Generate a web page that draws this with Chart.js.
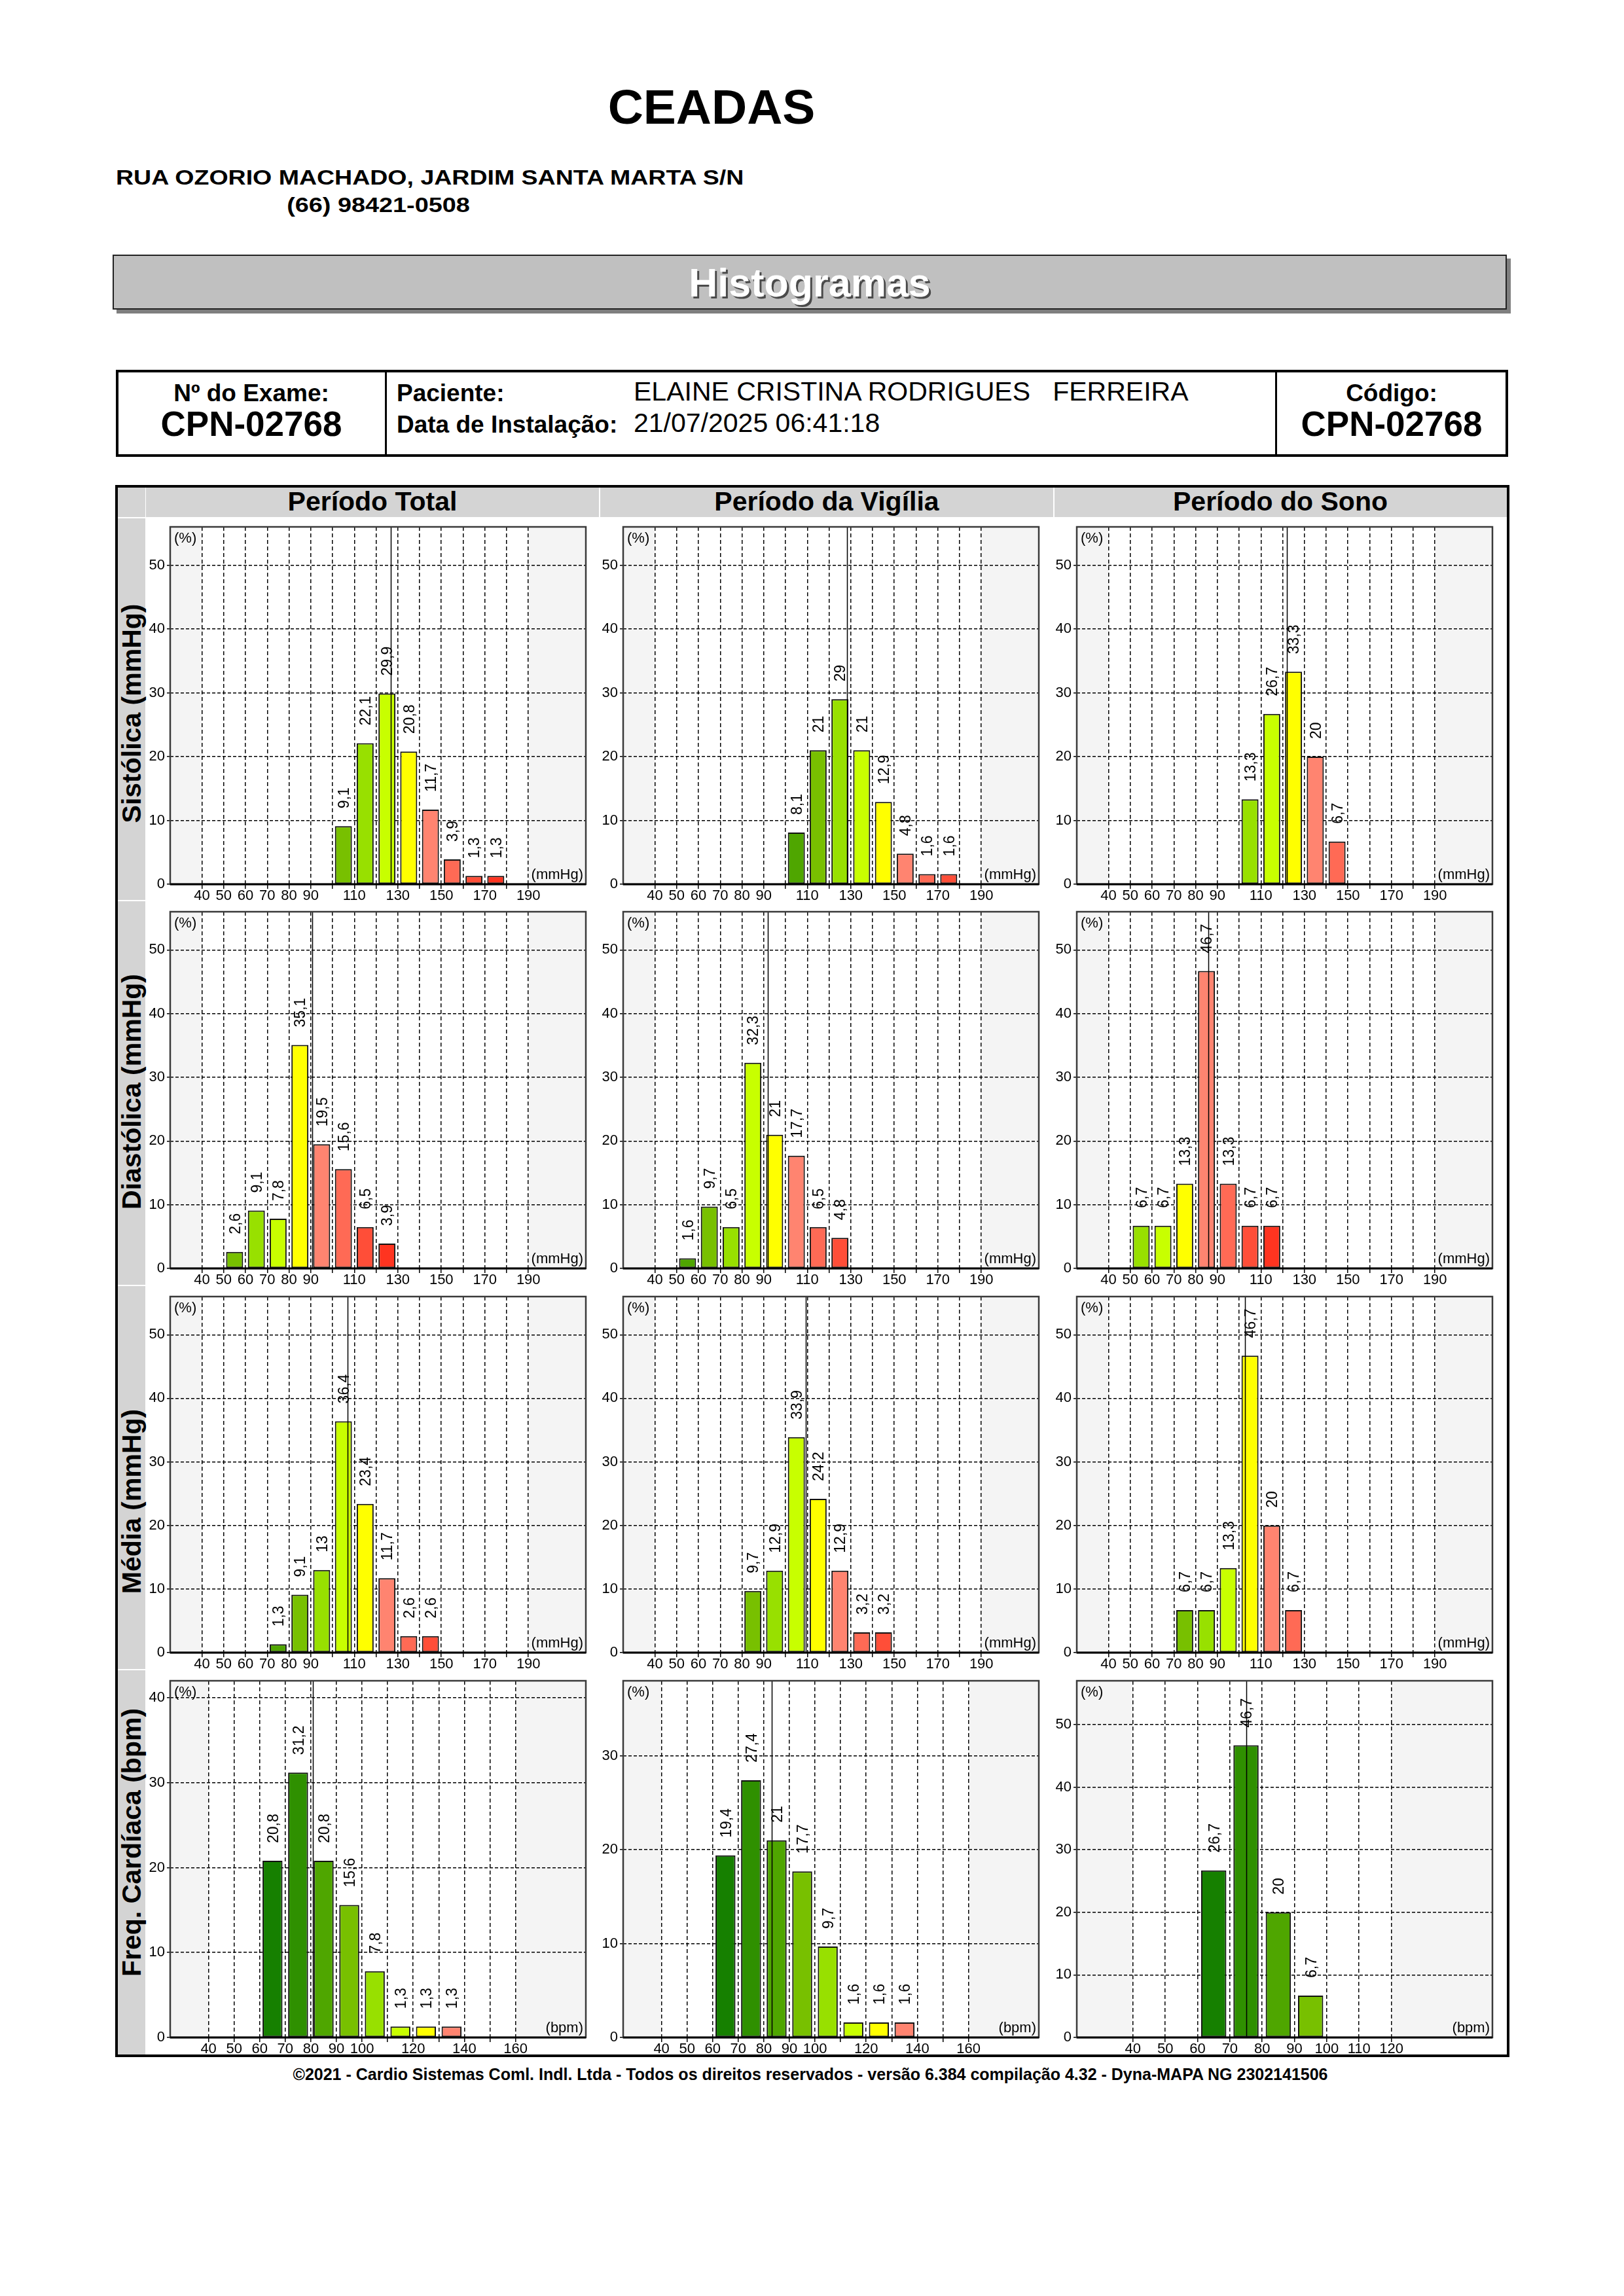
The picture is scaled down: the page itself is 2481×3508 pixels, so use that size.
<!DOCTYPE html>
<html lang="pt-BR">
<head>
<meta charset="utf-8">
<title>Histogramas</title>
<script src="https://cdn.jsdelivr.net/npm/chart.js@4.4.1/dist/chart.umd.min.js"></script>
<style>
  body { margin: 0; width: 2481px; height: 3508px; background: #fff; position: relative; overflow: hidden;
         font-family: "Liberation Sans", Arial, sans-serif; color: #000; }
  .t { position: absolute; white-space: pre; }
  .box { position: absolute; box-sizing: border-box; }
  canvas { position: absolute; }
</style>
</head>
<body>
<script>
// ---- dados (%) por faixa de 10 ----
const sistolicaBins = [100, 110, 120, 130, 140, 150, 160, 170];
const sistolicaTotal = [9.1, 22.1, 29.9, 20.8, 11.7, 3.9, 1.3, 1.3];
const sistolicaVigilia = [8.1, 21, 29, 21, 12.9, 4.8, 1.6, 1.6];
const sistolicaSono = [13.3, 26.7, 33.3, 20, 6.7, null, null, null];
const sistolicaMedias = [126.9, 128.2, 121.9];

const diastolicaBins = [50, 60, 70, 80, 90, 100, 110, 120];
const diastolicaTotal = [2.6, 9.1, 7.8, 35.1, 19.5, 15.6, 6.5, 3.9];
const diastolicaVigilia = [1.6, 9.7, 6.5, 32.3, 21, 17.7, 6.5, 4.8];
const diastolicaSono = [6.7, 6.7, 13.3, 46.7, 13.3, 6.7, 6.7, null];
const diastolicaMedias = [90.7, 92.0, 85.8];

const mediaBins = [70, 80, 90, 100, 110, 120, 130, 140];
const mediaTotal = [1.3, 9.1, 13, 36.4, 23.4, 11.7, 2.6, 2.6];
const mediaVigilia = [null, 9.7, 12.9, 33.9, 24.2, 12.9, 3.2, 3.2];
const mediaSono = [6.7, 6.7, 13.3, 46.7, 20, 6.7, null, null];
const mediaMedias = [106.9, 109.2, 102.7];

const freqBins = [60, 70, 80, 90, 100, 110, 120, 130];
const freqTotal = [20.8, 31.2, 20.8, 15.6, 7.8, 1.3, 1.3, 1.3];
const freqVigilia = [19.4, 27.4, 21, 17.7, 9.7, 1.6, 1.6, 1.6];
const freqSono = [26.7, 46.7, 20, 6.7, null, null, null, null];
const freqMedias = [80.9, 83.2, 75.0];

// ---- eixos ----
const pressaoGrid = [40, 50, 60, 70, 80, 90, 100, 110, 120, 130, 140, 150, 160, 170, 180, 190];
const pressaoLabels = [40, 50, 60, 70, 80, 90, 110, 130, 150, 170, 190];
const freqGrid = [40, 50, 60, 70, 80, 90, 100, 110, 120, 130, 140, 150, 160];
const freqLabels = [40, 50, 60, 70, 80, 90, 100, 120, 140, 160];
const freqSonoGrid = [40, 50, 60, 70, 80, 90, 100, 110, 120];
const freqSonoLabels = [40, 50, 60, 70, 80, 90, 100, 110, 120];
const pressaoYTicks = [0, 10, 20, 30, 40, 50];
const freqTotalYTicks = [0, 10, 20, 30, 40];
const freqVigiliaYTicks = [0, 10, 20, 30];
const freqSonoYTicks = [0, 10, 20, 30, 40, 50];

const colunas = ['Período Total', 'Período da Vigília', 'Período do Sono'];

// escala de cores (verde -> amarelo -> vermelho)
const ramp = ['#168000', '#2f9000', '#4fa600', '#78c000', '#98e000', '#c8ff00',
              '#ffff00', '#ff8470', '#ff6a55', '#ff4e38', '#ff3420'];

const FONT = '"Liberation Sans", Arial, sans-serif';
Chart.defaults.font.family = FONT;
Chart.defaults.color = '#000';

const pressaoAxis = { min: 25.4, max: 216.4, grid: pressaoGrid, labels: pressaoLabels };
const freqAxis = { min: 25, max: 187.5, grid: freqGrid, labels: freqLabels };
const freqSonoAxis = { min: 22.6, max: 151.3, grid: freqSonoGrid, labels: freqSonoLabels };

const rows = [
  { label: 'Sistólica (mmHg)', labelY: 1090, top: 805, bottom: 1351, unit: '(mmHg)', bins: sistolicaBins,
    series: [sistolicaTotal, sistolicaVigilia, sistolicaSono], means: sistolicaMedias, colorStart: [3, 2, 4],
    axes: [pressaoAxis, pressaoAxis, pressaoAxis], yMax: [56, 56, 56], yTicks: [pressaoYTicks, pressaoYTicks, pressaoYTicks] },
  { label: 'Diastólica (mmHg)', labelY: 1668, top: 1393, bottom: 1938, unit: '(mmHg)', bins: diastolicaBins,
    series: [diastolicaTotal, diastolicaVigilia, diastolicaSono], means: diastolicaMedias, colorStart: [3, 2, 4],
    axes: [pressaoAxis, pressaoAxis, pressaoAxis], yMax: [56, 56, 56], yTicks: [pressaoYTicks, pressaoYTicks, pressaoYTicks] },
  { label: 'Média (mmHg)', labelY: 2294, top: 1981, bottom: 2525, unit: '(mmHg)', bins: mediaBins,
    series: [mediaTotal, mediaVigilia, mediaSono], means: mediaMedias, colorStart: [2, 2, 3],
    axes: [pressaoAxis, pressaoAxis, pressaoAxis], yMax: [56, 56, 56], yTicks: [pressaoYTicks, pressaoYTicks, pressaoYTicks] },
  { label: 'Freq. Cardíaca (bpm)', labelY: 2815, top: 2568, bottom: 3113, unit: '(bpm)', bins: freqBins,
    series: [freqTotal, freqVigilia, freqSono], means: freqMedias, colorStart: [0, 0, 0],
    axes: [freqAxis, freqAxis, freqSonoAxis], yMax: [42, 38, 57], yTicks: [freqTotalYTicks, freqVigiliaYTicks, freqSonoYTicks] }
];

const plotLefts = [260, 952, 1645];
const PLOT_W = 635;

// ---- helpers DOM ----
function text(str, x, baseline, size, opts) {
  opts = opts || {};
  const d = document.createElement('div');
  d.className = 't';
  d.textContent = str;
  d.style.fontSize = size + 'px';
  d.style.lineHeight = size + 'px';
  d.style.fontWeight = opts.bold ? 'bold' : 'normal';
  d.style.left = x + 'px';
  d.style.top = (baseline - 0.8465 * size) + 'px';
  if (opts.color) d.style.color = opts.color;
  if (opts.shadow) d.style.textShadow = opts.shadow;
  let tf = '';
  if (opts.align === 'center') tf += 'translateX(-50%) ';
  if (opts.scaleX) { tf += 'scaleX(' + opts.scaleX + ')'; d.style.transformOrigin = opts.align === 'center' ? '50% 50%' : '0 50%'; }
  if (tf) d.style.transform = tf;
  document.body.appendChild(d);
  return d;
}
function rect(x, y, w, h, css) {
  const d = document.createElement('div');
  d.className = 'box';
  d.style.left = x + 'px'; d.style.top = y + 'px';
  d.style.width = w + 'px'; d.style.height = h + 'px';
  Object.assign(d.style, css || {});
  document.body.appendChild(d);
  return d;
}

// ---- cabecalho ----
text('CEADAS', 1087, 189, 75, { bold: true, align: 'center' });
text('RUA OZORIO MACHADO, JARDIM SANTA MARTA S/N', 177, 282, 31, { bold: true, scaleX: 1.21 });
text('(66) 98421-0508', 578, 324, 31, { bold: true, align: 'center', scaleX: 1.22 });

rect(172, 389, 2130, 84, { background: '#c0c0c0', border: '2px solid #222', boxShadow: '6px 6px 0 #7f7f7f' });
text('Histogramas', 1237, 454, 61, { bold: true, align: 'center', color: '#fff', shadow: '3px 3px 0 #4a4a4a' });

rect(177, 565, 2127, 133, { border: '4px solid #000' });
rect(588, 565, 3, 133, { background: '#000' });
rect(1948, 565, 3, 133, { background: '#000' });
text('Nº do Exame:', 384, 613, 37, { bold: true, align: 'center' });
text('CPN-02768', 384, 666, 53, { bold: true, align: 'center' });
text('Paciente:', 606, 613, 37, { bold: true });
text('Data de Instalação:', 606, 661, 37, { bold: true });
text('ELAINE CRISTINA RODRIGUES   FERREIRA', 968, 613, 41);
text('21/07/2025 06:41:18', 968, 661, 41);
text('Código:', 2126, 613, 37, { bold: true, align: 'center' });
text('CPN-02768', 2126, 666, 53, { bold: true, align: 'center' });

// ---- moldura da grade ----
rect(176, 741, 2130, 2402, { border: '4px solid #000' });
const GRAY = '#d4d4d4';
rect(180, 745, 42, 45, { background: GRAY });
rect(223, 745, 692, 45, { background: GRAY });
rect(917, 745, 692, 45, { background: GRAY });
rect(1611, 745, 691, 45, { background: GRAY });
rect(180, 792, 42, 583, { background: GRAY });
rect(180, 1377, 42, 586, { background: GRAY });
rect(180, 1965, 42, 585, { background: GRAY });
rect(180, 2552, 42, 587, { background: GRAY });
const colCenters = [569, 1263, 1956];
colunas.forEach((c, i) => text(c, colCenters[i], 781, 41, { bold: true, align: 'center' }));

rows.forEach(r => {
  const d = document.createElement('div');
  d.className = 't';
  d.textContent = r.label;
  d.style.fontSize = '41px';
  d.style.lineHeight = '41px';
  d.style.fontWeight = 'bold';
  d.style.left = '201px';
  d.style.top = r.labelY + 'px';
  d.style.transform = 'translate(-50%, -50%) rotate(-90deg)';
  document.body.appendChild(d);
});

text('©2021 - Cardio Sistemas Coml. Indl. Ltda - Todos os direitos reservados - versão 6.384 compilação 4.32 - Dyna-MAPA NG 2302141506',
     1238, 3178, 25, { bold: true, align: 'center' });

// ---- plugin do histograma ----
const histPlugin = {
  id: 'hist',
  beforeDraw(chart, args, o) {
    const { ctx, chartArea: a, scales: { x } } = chart;
    ctx.save();
    ctx.fillStyle = '#f4f4f4';
    ctx.fillRect(a.left, a.top, a.width, a.height);
    const x0 = x.getPixelForValue(o.white[0]);
    const x1 = x.getPixelForValue(o.white[1]);
    ctx.fillStyle = '#ffffff';
    ctx.fillRect(x0, a.top, x1 - x0, a.height);
    ctx.restore();
  },
  afterDatasetsDraw(chart, args, o) {
    const { ctx, chartArea: a, scales: { x } } = chart;
    ctx.save();
    // linha da media
    const mx = Math.round(x.getPixelForValue(o.mean)) + 0.5;
    ctx.strokeStyle = '#000';
    ctx.lineWidth = 1.5;
    ctx.beginPath();
    ctx.moveTo(mx, a.top);
    ctx.lineTo(mx, a.bottom);
    ctx.stroke();
    // rotulos dos valores
    const meta = chart.getDatasetMeta(0);
    ctx.fillStyle = '#000';
    ctx.font = '23px ' + FONT;
    ctx.textAlign = 'left';
    ctx.textBaseline = 'middle';
    meta.data.forEach((el, i) => {
      const v = chart.data.datasets[0].data[i].y;
      ctx.save();
      ctx.translate(el.x + 2, el.y - 27);
      ctx.rotate(-Math.PI / 2);
      ctx.fillText(String(v).replace('.', ','), 0, 0);
      ctx.restore();
    });
    ctx.restore();
  },
  afterDraw(chart, args, o) {
    const { ctx, chartArea: a } = chart;
    ctx.save();
    ctx.strokeStyle = '#3a3a3a';
    ctx.lineWidth = 2.5;
    ctx.strokeRect(a.left, a.top, a.width, a.height);
    ctx.strokeStyle = '#000';
    ctx.lineWidth = 3;
    ctx.beginPath();
    ctx.moveTo(a.left, a.bottom);
    ctx.lineTo(a.right, a.bottom);
    ctx.stroke();
    ctx.fillStyle = '#000';
    ctx.font = '22px ' + FONT;
    ctx.textAlign = 'left';
    ctx.textBaseline = 'top';
    ctx.fillText('(%)', a.left + 6, a.top + 7);
    ctx.textAlign = 'right';
    ctx.textBaseline = 'bottom';
    ctx.fillText(o.unit, a.right - 4, a.bottom - 3);
    ctx.restore();
  }
};

function buildChart(row, col) {
  const axis = row.axes[col];
  const values = row.series[col];
  const AX_W = 40, PAD_T = 12, AX_H = 28, PAD_R = 6;
  const plotH = row.bottom - row.top;
  const canvas = document.createElement('canvas');
  canvas.width = AX_W + PLOT_W + PAD_R;
  canvas.height = PAD_T + plotH + AX_H;
  canvas.style.left = (plotLefts[col] - AX_W) + 'px';
  canvas.style.top = (row.top - PAD_T) + 'px';
  document.body.appendChild(canvas);

  const points = [];
  const colors = [];
  row.bins.forEach((b, i) => {
    if (values[i] === null) return;
    points.push({ x: b + 5, y: values[i] });
    colors.push(ramp[row.colorStart[col] + i]);
  });

  new Chart(canvas, {
    type: 'bar',
    data: {
      datasets: [{
        data: points,
        backgroundColor: colors,
        borderColor: '#111',
        borderWidth: 2,
        borderSkipped: false,
        categoryPercentage: 1,
        barPercentage: 0.78
      }]
    },
    options: {
      responsive: false,
      animation: false,
      devicePixelRatio: 1,
      events: [],
      layout: { padding: { top: PAD_T, right: PAD_R, left: 0, bottom: 0 } },
      plugins: {
        legend: { display: false },
        tooltip: { enabled: false },
        hist: { white: [axis.grid[0], axis.grid[axis.grid.length - 1]], mean: row.means[col], unit: row.unit }
      },
      scales: {
        x: {
          type: 'linear', bounds: 'data', offset: false,
          min: axis.min, max: axis.max,
          afterBuildTicks: s => { s.ticks = axis.grid.map(v => ({ value: v })); },
          afterFit: s => { s.height = AX_H; s.paddingLeft = 0; s.paddingRight = 0; },
          ticks: {
            autoSkip: false, maxRotation: 0, minRotation: 0, padding: 0,
            font: { size: 22, lineHeight: 1 },
            callback: v => axis.labels.includes(v) ? String(v) : ''
          },
          grid: { color: '#000', lineWidth: 1.5, tickLength: 7, offset: false, tickColor: '#000', tickBorderDash: [] },
          border: { display: false, dash: [6, 4] }
        },
        y: {
          type: 'linear', bounds: 'data', min: 0, max: row.yMax[col],
          afterBuildTicks: s => { s.ticks = row.yTicks[col].map(v => ({ value: v })); },
          afterFit: s => { s.width = AX_W; s.paddingTop = 0; s.paddingBottom = 0; },
          ticks: { padding: 3, font: { size: 22, lineHeight: 1 } },
          grid: { color: '#000', lineWidth: 1.5, tickLength: 5, tickColor: '#000', tickBorderDash: [] },
          border: { display: false, dash: [5, 3] }
        }
      }
    },
    plugins: [histPlugin]
  });
}

rows.forEach(r => [0, 1, 2].forEach(c => buildChart(r, c)));
</script>
</body>
</html>
